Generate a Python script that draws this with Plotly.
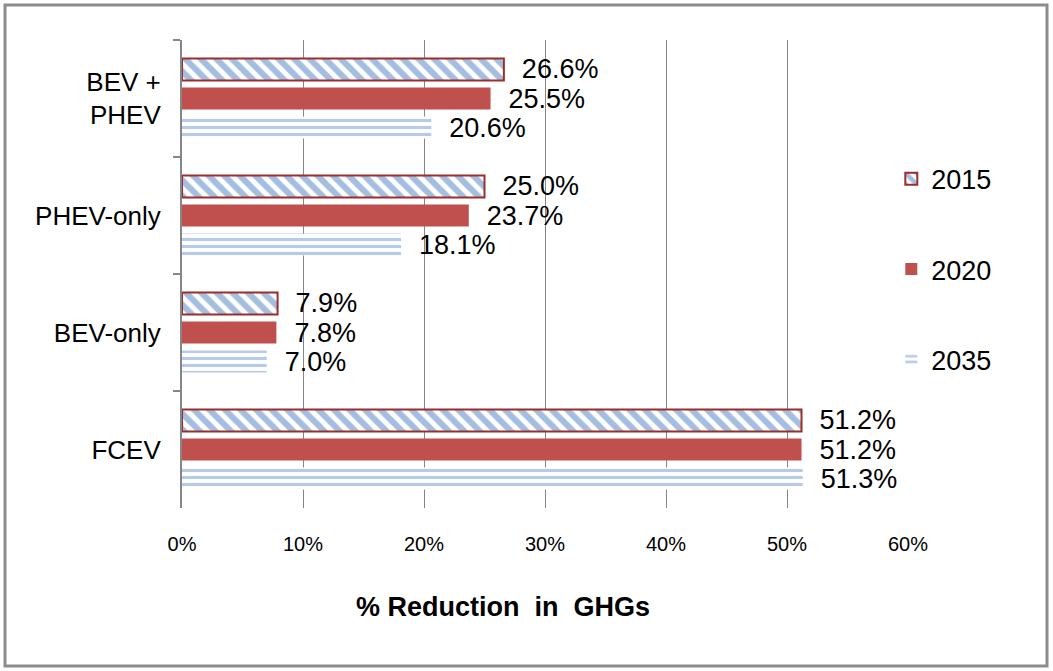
import plotly.graph_objects as go

categories = ["BEV +<br>PHEV", "PHEV-only", "BEV-only", "FCEV"]
v2015 = [26.6, 25.0, 7.9, 51.2]
v2020 = [25.5, 23.7, 7.8, 51.2]
v2035 = [20.6, 18.1, 7.0, 51.3]
x_ticks = [0, 10, 20, 30, 40, 50, 60]
x_ticklabels = ["0%", "10%", "20%", "30%", "40%", "50%", "60%"]

FONT = "Arial, Liberation Sans, sans-serif"
NB = "\u00a0"

def labels(vals):
    return [f"{NB}{NB}{v:.1f}%" for v in vals]

fig = go.Figure()
fig.add_trace(go.Bar(
    y=categories, x=v2015, name="2015", orientation="h",
    text=labels(v2015), textposition="outside",
    marker=dict(color="white",
                line=dict(color="#9B2D2B", width=2),
                pattern=dict(shape="\\", fgcolor="#4A7EBF", bgcolor="white",
                             size=11, solidity=0.55)),
    legendgroup="a",
))
fig.add_trace(go.Bar(
    y=categories, x=v2020, name="2020", orientation="h",
    text=labels(v2020), textposition="outside",
    marker=dict(color="#C0504D", line=dict(width=0)),
    legendgroup="b",
))
fig.add_trace(go.Bar(
    y=categories, x=v2035, name="2035", orientation="h",
    text=labels(v2035), textposition="outside",
    marker=dict(color="white", line=dict(width=0),
                pattern=dict(shape="-", fgcolor="#6F98CF", bgcolor="white",
                             size=7, solidity=0.45)),
    legendgroup="c",
))

fig.update_traces(textfont=dict(size=27, color="black", family=FONT),
                  cliponaxis=False, constraintext="none")

fig.update_layout(
    width=1053, height=671,
    margin=dict(l=182, r=145, t=40, b=163),
    paper_bgcolor="white", plot_bgcolor="white",
    font=dict(family=FONT, color="black"),
    barmode="group", bargap=0.256, bargroupgap=0.24,
    showlegend=True,
    legend=dict(x=0.977, xanchor="left", y=0.51, yanchor="middle",
                font=dict(size=27, family=FONT), tracegroupgap=52,
                bgcolor="rgba(0,0,0,0)"),
    xaxis=dict(range=[0, 60], tickvals=x_ticks, ticktext=x_ticklabels,
               showgrid=True, gridcolor="#868686", gridwidth=1,
               showline=False, zeroline=False, ticks="",
               ticklabelstandoff=22,
               tickfont=dict(size=20, family=FONT)),
    yaxis=dict(autorange="reversed", type="category",
               showline=True, linecolor="#868686", linewidth=2,
               ticks="outside", tickson="boundaries", ticklen=7,
               tickcolor="#868686", tickwidth=1.5,
               ticklabelstandoff=14,
               tickfont=dict(size=26, family=FONT), showgrid=False),
    annotations=[dict(text="<b>% Reduction  in  GHGs</b>", xref="paper", yref="paper",
                      x=(503 - 182) / 726, y=(508 - 607) / 468,
                      xanchor="center", yanchor="middle", showarrow=False,
                      font=dict(size=27, family=FONT))],
    shapes=[dict(type="rect", xref="paper", yref="paper",
                 x0=(5 - 182) / 726, x1=(1047 - 182) / 726,
                 y0=(508 - 666) / 468, y1=(508 - 5) / 468,
                 line=dict(color="#8C8C8C", width=3), fillcolor="rgba(0,0,0,0)",
                 layer="below")],
)

fig.write_html("out.html", config={"displayModeBar": False},
               post_script="document.body.style.margin='0';")
